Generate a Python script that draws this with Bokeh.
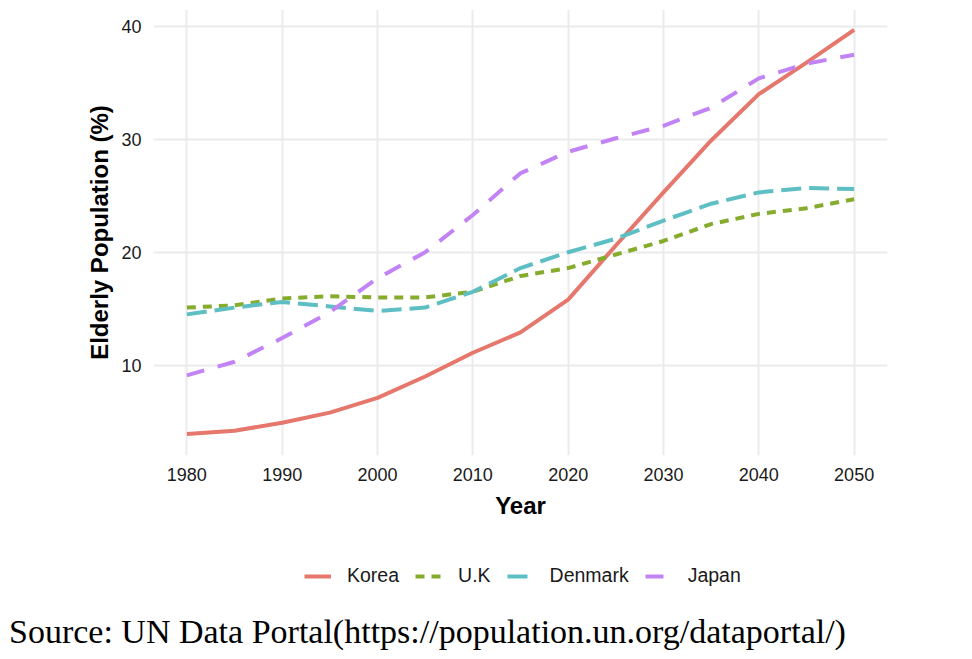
from bokeh.plotting import figure
from bokeh.layouts import column
from bokeh.models import Range1d, Legend, LegendItem, FixedTicker, Div
from bokeh.embed import file_html
from bokeh.resources import INLINE

years = [1980, 1985, 1990, 1995, 2000, 2005, 2010, 2015, 2020, 2025, 2030, 2035, 2040, 2045, 2050]
korea = [3.9, 4.2, 4.9, 5.8, 7.1, 9.0, 11.1, 12.9, 15.8, 20.6, 25.3, 29.9, 34.0, 36.8, 39.7]
uk = [15.1, 15.3, 15.9, 16.1, 16.0, 16.0, 16.5, 17.9, 18.6, 19.8, 21.0, 22.5, 23.4, 23.9, 24.7]
denmark = [14.5, 15.1, 15.6, 15.2, 14.8, 15.1, 16.5, 18.6, 20.0, 21.2, 22.8, 24.3, 25.3, 25.7, 25.6]
japan = [9.1, 10.3, 12.4, 14.7, 17.7, 20.0, 23.3, 27.0, 28.9, 30.1, 31.2, 32.8, 35.4, 36.7, 37.5]
series_names = ["Korea", "U.K", "Denmark", "Japan"]
x_ticks = [1980, 1990, 2000, 2010, 2020, 2030, 2040, 2050]
y_ticks = [10, 20, 30, 40]
source_text = "Source: UN Data Portal(https://population.un.org/dataportal/)"

colors = ["#E5776D", "#86AC2E", "#5DBFC4", "#C283F5"]
dashes = ["solid", "9 7", "20 8", "18 14"]
series = [korea, uk, denmark, japan]

# main chart
p = figure(frame_width=734, frame_height=446, output_backend="svg", toolbar_location=None,
           x_range=Range1d(1976.5, 2053.5), y_range=Range1d(2.0, 41.5),
           min_border_left=153, min_border_right=85, min_border_top=9, min_border_bottom=80)
p.outline_line_color = None
p.background_fill_color = "white"

for ys, c, d in zip(series, colors, dashes):
    p.line(years, ys, line_color=c, line_width=4, line_dash=d)

for ax in (p.xaxis[0], p.yaxis[0]):
    ax.axis_line_color = None
    ax.major_tick_line_color = None
    ax.minor_tick_line_color = None
    ax.major_label_text_font = "Liberation Sans"
    ax.major_label_text_font_size = "18px"
    ax.major_label_text_color = "#1a1a1a"
    ax.axis_label_text_font = "Liberation Sans"
    ax.axis_label_text_font_size = "24px"
    ax.axis_label_text_font_style = "bold"
    ax.axis_label_text_color = "black"

p.xaxis.ticker = FixedTicker(ticks=x_ticks)
p.yaxis.ticker = FixedTicker(ticks=y_ticks)
p.xaxis.axis_label = "Year"
p.yaxis.axis_label = "Elderly Population (%)"
p.xaxis.major_label_standoff = 6
p.yaxis.major_label_standoff = 6
p.xaxis.axis_label_standoff = 8
p.yaxis.axis_label_standoff = 5

p.xgrid.ticker = FixedTicker(ticks=x_ticks)
p.ygrid.ticker = FixedTicker(ticks=y_ticks)
p.grid.grid_line_color = "#EBEBEB"
p.grid.grid_line_width = 2

# legend strip (same series, drawn outside its visible range so only the legend keys show)
q = figure(width=972, height=80, output_backend="svg", toolbar_location=None,
           x_range=Range1d(0, 1), y_range=Range1d(0, 1),
           x_axis_location=None, y_axis_location=None,
           min_border_left=0, min_border_right=0, min_border_top=0, min_border_bottom=0)
q.outline_line_color = None
q.xgrid.visible = False
q.ygrid.visible = False

items = []
for name, ys, c, d in zip(series_names, series, colors, dashes):
    r = q.line(years, ys, line_color=c, line_width=4, line_dash=d)
    items.append(LegendItem(label=name, renderers=[r]))

legend = Legend(items=items, orientation="horizontal", location=(151, 28),
                glyph_width=27, glyph_height=20, label_standoff=16, spacing=16,
                label_text_font="Liberation Sans", label_text_font_size="19.5px",
                label_text_color="#1a1a1a", border_line_color=None,
                background_fill_alpha=0, padding=0, margin=0)
q.add_layout(legend, "center")

src = Div(text=source_text, width=960, height=44, margin=(0, 0, 0, 9),
          styles={"font-family": "'Liberation Serif', serif", "font-size": "34px",
                  "line-height": "33px", "color": "black", "white-space": "nowrap"})

layout = column(p, q, src, spacing=0)
open("out.html", "w").write(file_html(layout, INLINE))
